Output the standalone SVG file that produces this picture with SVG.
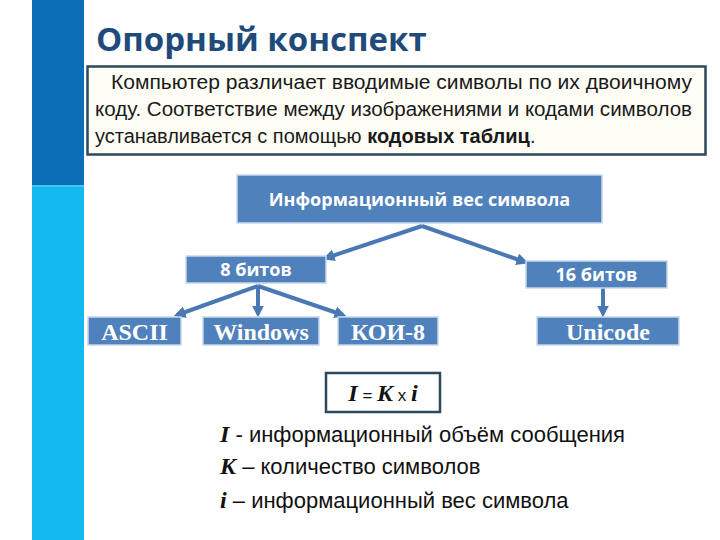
<svg xmlns="http://www.w3.org/2000/svg" width="720" height="540" viewBox="0 0 720 540">
<defs>
<style>
.title{font-family:"Open Sans","Noto Sans",sans-serif;font-weight:bold;font-size:33px;fill:#1F4B7B}
.para{font-family:"Liberation Sans",Arial,sans-serif;font-size:20px;fill:#1a1a1a}
.box{fill:#4F81BD;stroke:#C9D7EA;stroke-width:1.5}
.lbl{font-family:"Open Sans","Noto Sans",sans-serif;font-weight:bold;font-size:18px;fill:#fff;text-anchor:middle}
.serif{font-family:"Liberation Serif","Times New Roman",serif;font-weight:bold;font-size:24px;fill:#fff;text-anchor:middle}
.conn{stroke:#4A78B4;stroke-width:4;fill:none;marker-end:url(#ah)}
.leg{font-family:"Liberation Sans",Arial,sans-serif;font-size:22px;fill:#111}
.var{font-family:"Liberation Serif","Times New Roman",serif;font-weight:bold;font-style:italic;font-size:24px}
</style>
<marker id="ah" viewBox="0 0 10 10" refX="7" refY="5" markerWidth="3" markerHeight="3" orient="auto" markerUnits="strokeWidth">
<path d="M0,0 L10,5 L0,10 Z" fill="#4A78B4"/>
</marker>
</defs>
<rect width="720" height="540" fill="#fff"/>
<g id="sidebar">
<rect x="32" y="0" width="52" height="185" fill="#0B6EB7"/>
<rect x="32" y="185" width="52" height="355" fill="#14B9F0"/>
<rect x="32" y="185" width="52" height="2" fill="#3CC8F4"/>
</g>
<g id="title"><text class="title" x="96" y="51">Опорный конспект</text></g>
<g id="note">
<rect x="87.5" y="66.5" width="618" height="88" fill="#FFFEF6" stroke="#2B4A5C" stroke-width="2.5"/>
<text class="para" x="111" y="89" textLength="581" lengthAdjust="spacingAndGlyphs">Компьютер различает вводимые символы по их двоичному</text>
<text class="para" x="95" y="116" textLength="597" lengthAdjust="spacingAndGlyphs">коду. Соответствие между изображениями и кодами символов</text>
<text class="para" x="95" y="143">устанавливается с помощью <tspan font-weight="bold">кодовых таблиц</tspan>.</text>
</g>
<g id="connectors">
<line class="conn" x1="422" y1="226" x2="326" y2="258"/>
<line class="conn" x1="422" y1="226" x2="525" y2="262"/>
<line class="conn" x1="258" y1="286" x2="177" y2="315"/>
<line class="conn" x1="258" y1="286" x2="258" y2="314"/>
<line class="conn" x1="258" y1="286" x2="343" y2="315"/>
<line class="conn" x1="603" y1="288" x2="603" y2="314"/>
</g>
<g id="n-weight"><rect class="box" x="237" y="175" width="365" height="48"/><text class="lbl" x="419.5" y="206">Информационный вес символа</text></g>
<g id="n-8bit"><rect class="box" x="186" y="256" width="140" height="27"/><text class="lbl" x="256" y="276">8 битов</text></g>
<g id="n-16bit"><rect class="box" x="526" y="261" width="141" height="27"/><text class="lbl" x="596.5" y="281">16 битов</text></g>
<g id="n-ascii"><rect class="box" x="88" y="317" width="93" height="28"/><text class="serif" x="134.5" y="340">ASCII</text></g>
<g id="n-windows"><rect class="box" x="203" y="317" width="116" height="28"/><text class="serif" x="261" y="340">Windows</text></g>
<g id="n-koi"><rect class="box" x="338" y="317" width="100" height="28"/><text class="serif" x="388" y="340">КОИ-8</text></g>
<g id="n-unicode"><rect class="box" x="537" y="317" width="142" height="28"/><text class="serif" x="608" y="340">Unicode</text></g>
<g id="formula">
<rect x="326" y="373" width="114" height="39" fill="#fff" stroke="#2B4A5C" stroke-width="2.5"/>
<text x="383" y="401" text-anchor="middle" font-family="Liberation Serif,serif" font-size="24" fill="#111"><tspan class="var">I</tspan><tspan font-size="17" font-family="Liberation Sans,sans-serif"> = </tspan><tspan class="var">K</tspan><tspan font-size="17" font-family="Liberation Sans,sans-serif"> x </tspan><tspan class="var">i</tspan></text>
</g>
<g id="legend">
<text class="leg" x="220" y="442"><tspan class="var">I</tspan> - информационный объём сообщения</text>
<text class="leg" x="220" y="474"><tspan class="var">K</tspan> – количество символов</text>
<text class="leg" x="220" y="508"><tspan class="var">i</tspan> – информационный вес символа</text>
</g>
</svg>
